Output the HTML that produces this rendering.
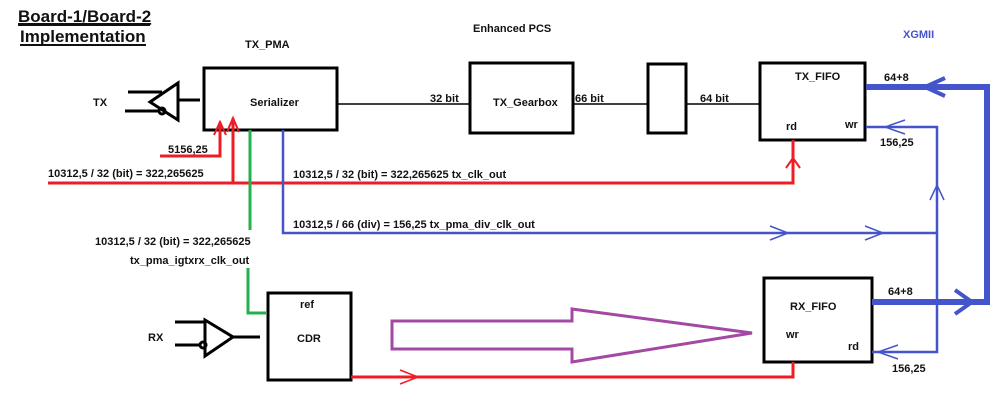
<!DOCTYPE html>
<html><head><style>body{margin:0;background:#fff}svg{display:block}text{font-family:"Liberation Sans",Arial,sans-serif;font-weight:bold;font-size:11px;fill:#111}</style></head><body>
<svg width="999" height="406" viewBox="0 0 999 406" xmlns="http://www.w3.org/2000/svg">
<text x="18" y="22" style="font-size:17px" text-decoration="underline">Board-1/Board-2</text>
<line x1="18" y1="25" x2="150" y2="25" stroke="#111" stroke-width="2"/>
<text x="20" y="42" style="font-size:17px">Implementation</text>
<line x1="20" y1="45" x2="146" y2="45" stroke="#111" stroke-width="2"/>
<text x="245" y="48">TX_PMA</text>
<text x="473" y="32">Enhanced PCS</text>
<text x="903" y="38" style="fill:#4455cc">XGMII</text>
<g fill="none" stroke="#000" stroke-width="3">
<rect x="204" y="68" width="133" height="62"/>
<rect x="470" y="63" width="103" height="70"/>
<rect x="648" y="64" width="38" height="69"/>
<rect x="760" y="63" width="105" height="77"/>
<rect x="764" y="278" width="108" height="84"/>
<rect x="268" y="293" width="83" height="87"/>
</g>
<g stroke="#000" stroke-width="1.5"><line x1="337" y1="104" x2="470" y2="104"/><line x1="573" y1="104" x2="648" y2="104"/><line x1="686" y1="104" x2="760" y2="104"/></g>
<text x="250" y="106">Serializer</text>
<text x="493" y="106">TX_Gearbox</text>
<text x="430" y="102">32 bit</text><text x="575" y="102">66 bit</text><text x="700" y="102">64 bit</text>
<text x="795" y="80">TX_FIFO</text><text x="786" y="130">rd</text><text x="845" y="128">wr</text>
<text x="790" y="310">RX_FIFO</text><text x="786" y="338">wr</text><text x="848" y="350">rd</text>
<text x="300" y="308">ref</text><text x="297" y="342">CDR</text>
<text x="93" y="106">TX</text><text x="148" y="341">RX</text>
<g fill="none" stroke="#000" stroke-width="3">
<line x1="128" y1="92" x2="162" y2="92"/><line x1="125" y1="111" x2="160" y2="111"/>
<polygon points="178,83 178,120 150,102"/><circle cx="162" cy="111" r="3"/>
<line x1="178" y1="100" x2="200" y2="100"/>
<line x1="175" y1="322" x2="205" y2="322"/><line x1="175" y1="345" x2="200" y2="345"/>
<polygon points="205,320 205,356 233,337"/><circle cx="203" cy="345" r="3"/>
<line x1="233" y1="337" x2="260" y2="337"/>
</g>
<g fill="none" stroke="#ee1c24" stroke-width="3">
<polyline points="48,183 793,183 793,140"/>
<polyline points="160,156 220,156 220,122"/>
<line x1="233" y1="183" x2="233" y2="118"/>
<polyline points="351,377 793,377 793,362"/>
<polyline points="214,135 220,122 226,135" stroke-width="2"/>
<polyline points="227,132 233,118 239,132" stroke-width="2"/>
<polyline points="786,168 793,158 800,168" stroke-width="2"/>
<polyline points="400,370 418,377 400,384" stroke-width="1.5"/>
</g>
<text x="168" y="153">5156,25</text>
<text x="48" y="177">10312,5 / 32 (bit)  = 322,265625</text>
<text x="293" y="178">10312,5 / 32 (bit)  = 322,265625     tx_clk_out</text>
<text x="293" y="228">10312,5 / 66 (div) = 156,25  tx_pma_div_clk_out</text>
<text x="95" y="245">10312,5 / 32 (bit)  = 322,265625</text>
<text x="130" y="264">tx_pma_igtxrx_clk_out</text>
<g fill="none" stroke="#22b14c" stroke-width="3">
<line x1="250" y1="130" x2="250" y2="230"/>
<polyline points="248,268 248,313 266,313"/>
</g>
<g fill="none" stroke="#4455cc" stroke-width="2.5">
<polyline points="283,130 283,233 937,233"/>
<polyline points="866,127 937,127 937,352 872,352"/>
<polyline points="770,226 788,233 770,240" stroke-width="1.5"/>
<polyline points="865,226 883,233 865,240" stroke-width="1.5"/>
<polyline points="905,120 885,127 905,134" stroke-width="1.5"/>
<polyline points="930,200 937,185 944,200" stroke-width="1.5"/>
<polyline points="898,345 878,352 898,359" stroke-width="1.5"/>
</g>
<g fill="none" stroke="#4455cc" stroke-width="6">
<polyline points="866,87 987,87 987,302 872,302"/>
<polyline points="945,78 925,87 945,96" stroke-width="4"/>
<polyline points="955,290 972,302 955,314" stroke-width="4"/>
</g>
<text x="884" y="81">64+8</text><text x="888" y="295">64+8</text>
<text x="880" y="146">156,25</text><text x="892" y="372">156,25</text>
<polygon points="392,321 572,321 572,309 752,333 572,362 572,349 392,349" fill="none" stroke="#a349a4" stroke-width="3"/>
</svg>
</body></html>
